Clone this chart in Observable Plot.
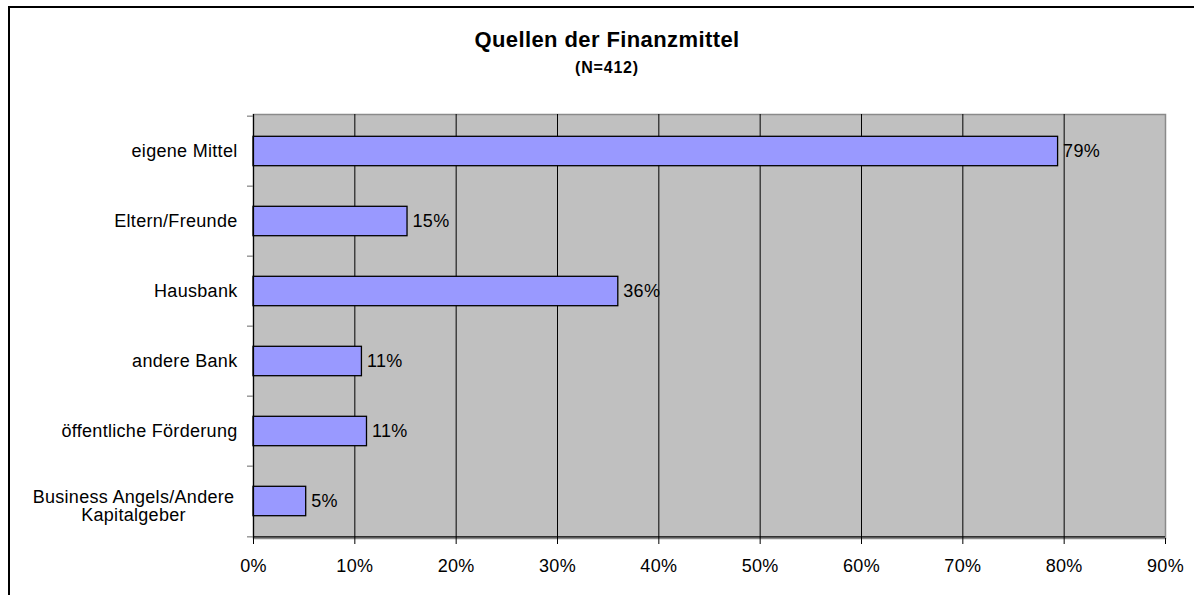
<!DOCTYPE html>
<html>
<head>
<meta charset="utf-8">
<script src="https://cdn.jsdelivr.net/npm/d3@7"></script>
<script src="https://cdn.jsdelivr.net/npm/@observablehq/plot@0.6"></script>
<style>
  body { margin: 0; background: #fff; font-family: "Liberation Sans", Arial, sans-serif; }
  #wrap { position: relative; width: 1194px; height: 595px; overflow: hidden; background: #fff; }
  #border { position: absolute; left: 8px; top: 6px; width: 1200px; height: 600px; border: 2px solid #000; box-sizing: border-box; }
  #title { position: absolute; left: 9px; width: 1196px; top: 27px; text-align: center; font-weight: bold; font-size: 22px; line-height: 26px; letter-spacing: 0.4px; }
  #sub { position: absolute; left: 9px; width: 1196px; top: 58px; text-align: center; font-weight: bold; font-size: 16px; line-height: 19px; letter-spacing: 0.8px; }
  #chart { position: absolute; left: 0; top: 0; }
</style>
</head>
<body>
<div id="wrap">
  <div id="border"></div>
  <div id="title">Quellen der Finanzmittel</div>
  <div id="sub">(N=412)</div>
  <div id="chart"></div>
</div>
<script>
const categories = ["eigene Mittel", "Eltern/Freunde", "Hausbank", "andere Bank", "öffentliche Förderung", "Business Angels/Andere\nKapitalgeber"];
const values = [79.4, 15.2, 36.0, 10.7, 11.2, 5.2];
const valueLabels = ["79%", "15%", "36%", "11%", "11%", "5%"];
const xTicks = [0, 10, 20, 30, 40, 50, 60, 70, 80, 90];

const data = categories.map((c, i) => ({category: c, value: values[i], label: valueLabels[i]}));

const W = 1194, H = 595;
const mTop = 114, mBottom = 57, mLeft = 253, mRight = 29;
const bw = (H - mTop - mBottom) / categories.length;
const pxPerUnit = (W - mLeft - mRight) / 90;
const last = categories[categories.length - 1];

const chart = Plot.plot({
  width: W,
  height: H,
  marginTop: mTop,
  marginBottom: mBottom,
  marginLeft: mLeft,
  marginRight: mRight,
  style: {fontFamily: '"Liberation Sans", Arial, sans-serif', fontSize: "18px", background: "transparent", letterSpacing: "0.3px", color: "#000"},
  x: {domain: [0, 90]},
  y: {domain: categories, padding: 0},
  marks: [
    Plot.frame({fill: "#c0c0c0", stroke: "#8a8a8a", strokeWidth: 1.5}),
    Plot.ruleX(xTicks.filter(d => d > 0 && d < 90), {stroke: "#000", strokeWidth: 1}),
    Plot.barX(data, {x: "value", y: "category", fill: "#9999ff", stroke: "#000", strokeWidth: 1.3, insetTop: 20.3, insetBottom: 20.3}),
    Plot.text(data, {x: "value", y: "category", text: "label", textAnchor: "start", dx: 5, fontSize: 18, fill: "#000"}),
    Plot.ruleX([0], {stroke: "#000", strokeWidth: 1.2}),
    Plot.ruleY([last], {x1: 0, x2: 90, dy: bw / 2, stroke: "#000", strokeWidth: 1.2}),
    Plot.ruleY(categories, {y: d => d, x1: -6 / pxPerUnit, x2: 0, dy: -bw / 2, stroke: "#808080", strokeWidth: 1.2}),
    Plot.ruleY([last], {x1: -6 / pxPerUnit, x2: 0, dy: bw / 2, stroke: "#808080", strokeWidth: 1.2}),
    Plot.axisX({ticks: xTicks, tickFormat: d => d + "%", tickSize: 6, tickPadding: 15, fontSize: 18, label: null}),
    Plot.axisY({ticks: categories.slice(0, -1), tickSize: 0, tickPadding: 16, fontSize: 18, label: null}),
    Plot.axisY({ticks: [last], tickSize: 0, tickPadding: 16, textAnchor: "middle", dx: -104, dy: 5, lineHeight: 1, fontSize: 18, label: null})
  ]
});
document.getElementById("chart").append(chart);
</script>
</body>
</html>
